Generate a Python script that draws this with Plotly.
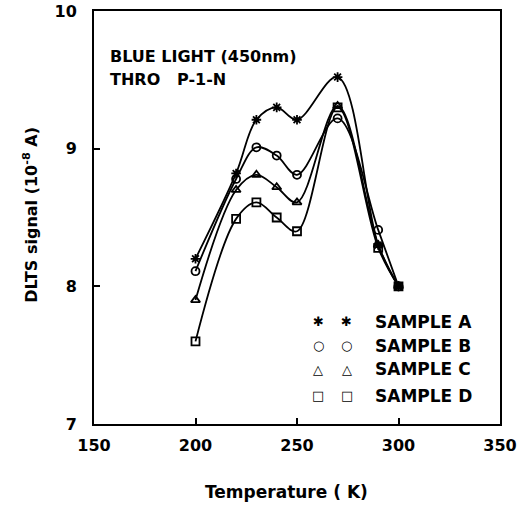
import plotly.graph_objects as go

temperature = [200, 220, 230, 240, 250, 270, 290, 300]
sample_a = [8.2, 8.82, 9.21, 9.30, 9.21, 9.52, 8.30, 8.0]
sample_b = [8.11, 8.78, 9.01, 8.95, 8.81, 9.22, 8.41, 8.0]
sample_c = [7.90, 8.70, 8.81, 8.72, 8.61, 9.31, 8.30, 8.0]
sample_d = [7.60, 8.49, 8.61, 8.50, 8.40, 9.30, 8.28, 8.0]

series_names = ["SAMPLE A", "SAMPLE B", "SAMPLE C", "SAMPLE D"]
series_values = [sample_a, sample_b, sample_c, sample_d]
symbols = ["asterisk", "circle-open", "triangle-up-open", "square-open"]
legend_glyphs = ["✱", "○", "△", "□"]

x_ticks = [150, 200, 250, 300, 350]
y_ticks = [7, 8, 9, 10]

FONT = "DejaVu Sans"
BOLD = dict(family=FONT, color="black", weight="bold")

fig = go.Figure()
for name, vals, sym in zip(series_names, series_values, symbols):
    fig.add_trace(go.Scatter(
        x=temperature, y=vals, name=name, mode="lines+markers",
        line=dict(color="black", width=1.8, shape="spline", smoothing=1.0),
        marker=dict(symbol=sym, size=8, color="black",
                    line=dict(color="black", width=1.8)),
        showlegend=False,
    ))

# custom legend (two glyphs + label), as in the original figure
legend_y = [0.247, 0.189, 0.133, 0.068]
for glyph, name, ly in zip(legend_glyphs, series_names, legend_y):
    for gx in (0.552, 0.623):
        fig.add_annotation(xref="paper", yref="paper", x=gx, y=ly, text=glyph,
                           showarrow=False, xanchor="center", yanchor="middle",
                           font=dict(**BOLD, size=13))
    fig.add_annotation(xref="paper", yref="paper", x=0.687, y=ly, text=name,
                       showarrow=False, xanchor="left", yanchor="middle",
                       font=dict(**BOLD, size=17))

fig.add_annotation(xref="paper", yref="paper", x=0.035, y=0.889,
                   text="BLUE LIGHT (450nm)", showarrow=False,
                   xanchor="left", yanchor="middle", font=dict(**BOLD, size=16))
fig.add_annotation(xref="paper", yref="paper", x=0.035, y=0.833,
                   text="THRO&nbsp;&nbsp;&nbsp;P-1-N", showarrow=False,
                   xanchor="left", yanchor="middle", font=dict(**BOLD, size=16))

# axis titles
fig.add_annotation(xref="paper", yref="paper", x=0.475, y=-0.165,
                   text="Temperature ( K)", showarrow=False,
                   xanchor="center", yanchor="middle", font=dict(**BOLD, size=17))
fig.add_annotation(xref="paper", yref="paper", x=-0.158, y=0.506,
                   text="DLTS signal (10<sup>-8</sup> A)", showarrow=False, textangle=-90,
                   xanchor="center", yanchor="middle", font=dict(**BOLD, size=16))

axis_common = dict(
    showline=True, linecolor="black", linewidth=2, mirror=True,
    ticks="inside", ticklen=6, tickwidth=2, tickcolor="black",
    showgrid=False, zeroline=False, automargin=False,
    tickfont=dict(**BOLD, size=16),
)

fig.update_layout(
    width=527, height=508,
    margin=dict(l=94, r=27, t=11, b=84),
    paper_bgcolor="white", plot_bgcolor="white",
    xaxis=dict(range=[150, 350], tickvals=x_ticks, ticklabelstandoff=6, **axis_common),
    yaxis=dict(range=[7, 10], tickvals=y_ticks, ticklabelstandoff=12, **axis_common),
)

# remove the browser's default 8px body margin so the figure fills the window
fig.write_html("out.html", config={"displayModeBar": False},
               post_script="document.body.style.margin='0px';")
